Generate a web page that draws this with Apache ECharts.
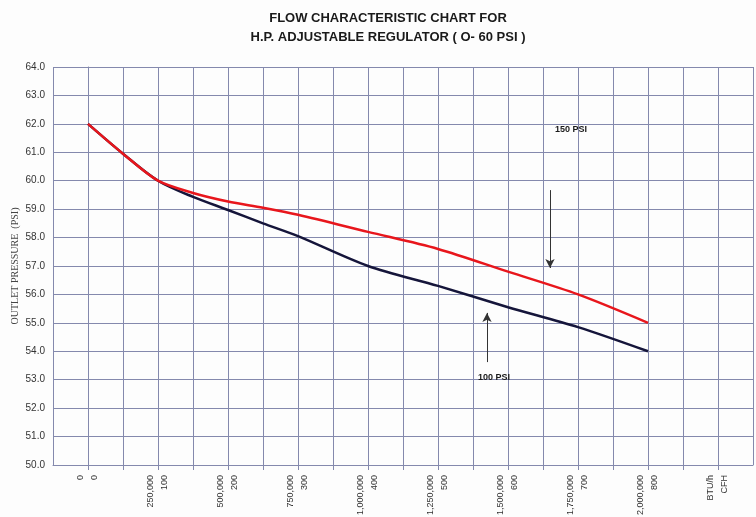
<!DOCTYPE html>
<html>
<head>
<meta charset="utf-8">
<script src="https://cdn.jsdelivr.net/npm/echarts@6/dist/echarts.min.js"></script>
<style>
html,body{margin:0;padding:0;background:#fdfdfd;}
#chart{width:756px;height:517px;}
</style>
</head>
<body>
<div id="chart"></div>
<script>
// CFH values (x) for both curves
var cfh = [0, 50, 100, 150, 200, 250, 300, 400, 500, 600, 700, 800];
// Outlet pressure (PSI) for the 150 PSI inlet curve
var psi150 = [62.0, 60.95, 60.0, 59.57, 59.27, 59.05, 58.8, 58.2, 57.6, 56.8, 56.0, 55.0];
// Outlet pressure (PSI) for the 100 PSI inlet curve
var psi100 = [62.0, 60.95, 60.0, 59.43, 58.97, 58.5, 58.05, 57.0, 56.3, 55.55, 54.85, 54.0];

// x tick labels
var cfhTicks = [0, 100, 200, 300, 400, 500, 600, 700, 800, 900];
var btuLabels = ['0', '250,000', '500,000', '750,000', '1,000,000', '1,250,000', '1,500,000', '1,750,000', '2,000,000', 'BTU/h'];
var cfhLabels = ['0', '100', '200', '300', '400', '500', '600', '700', '800', 'CFH'];

// annotations (data coordinates)
var ann150Text = [690, 61.8];
var ann150Arrow = [[660, 59.67], [660, 56.93]];
var ann100Text = [580, 53.06];
var ann100Arrow = [[570, 53.62], [570, 55.35]];

function pairs(xs, ys){ return xs.map(function(x,i){ return [x, ys[i]]; }); }

var gridColor = '#8489ad';
var chart = echarts.init(document.getElementById('chart'));
chart.setOption({
  backgroundColor: '#fdfdfd',
  animation: false,
  title: {
    text: 'FLOW CHARACTERISTIC CHART FOR\nH.P. ADJUSTABLE REGULATOR ( O- 60 PSI )',
    left: 383,
    top: 4,
    textAlign: 'center',
    textStyle: {
      fontFamily: 'Liberation Sans',
      fontWeight: 'bold',
      fontSize: 13,
      lineHeight: 19,
      color: '#1a1a1a'
    }
  },
  grid: { left: 53, right: 3, top: 67, bottom: 52, outerBoundsMode: 'none', containLabel: false },
  xAxis: {
    type: 'value',
    min: -50,
    max: 950,
    interval: 50,
    axisLine: { show: true, onZero: false, lineStyle: { color: gridColor, width: 1 } },
    axisTick: { show: true, length: 5, lineStyle: { color: gridColor } },
    splitLine: { show: true, lineStyle: { color: gridColor, width: 1 } },
    axisLabel: {
      rotate: 90,
      fontFamily: 'Liberation Sans',
      fontSize: 9,
      lineHeight: 14,
      color: '#333',
      margin: 10,
      padding: [0, 0, 6, 0],
      showMinLabel: false,
      showMaxLabel: false,
      formatter: function(v){
        var i = cfhTicks.indexOf(v);
        if (i < 0) return '';
        return btuLabels[i] + '\n' + cfhLabels[i];
      }
    }
  },
  yAxis: {
    type: 'value',
    min: 50,
    max: 64,
    interval: 1,
    name: 'OUTLET PRESSURE  (PSI)',
    nameLocation: 'middle',
    nameGap: 33,
    nameMoveOverlap: false,
    nameTextStyle: { fontFamily: 'Liberation Serif', fontSize: 10, color: '#444' },
    axisLine: { show: true, lineStyle: { color: gridColor, width: 1 } },
    axisTick: { show: true, length: 5, lineStyle: { color: gridColor } },
    splitLine: { show: true, lineStyle: { color: gridColor, width: 1 } },
    axisLabel: {
      fontFamily: 'Liberation Sans',
      fontSize: 10,
      color: '#333',
      margin: 8,
      formatter: function(v){ return v.toFixed(1); }
    }
  },
  series: [
    {
      name: '100 PSI',
      type: 'line',
      data: pairs(cfh, psi100),
      smooth: 0.3,
      showSymbol: false,
      lineStyle: { color: '#15153a', width: 2.5 },
      z: 3,
      markLine: {
        silent: true,
        symbol: ['none', 'arrow'],
        symbolSize: [7, 9],
        lineStyle: { color: '#333', width: 1, type: 'solid' },
        label: { show: false },
        data: [[{ coord: ann100Arrow[0] }, { coord: ann100Arrow[1] }]]
      },
      markPoint: {
        silent: true,
        symbol: 'rect',
        symbolSize: 1,
        itemStyle: { color: 'rgba(0,0,0,0)' },
        label: {
          show: true, position: 'inside', formatter: '{b}',
          fontFamily: 'Liberation Sans', fontWeight: 'bold', fontSize: 9, color: '#1a1a1a'
        },
        data: [{ name: '100 PSI', coord: ann100Text }]
      }
    },
    {
      name: '150 PSI',
      type: 'line',
      data: pairs(cfh, psi150),
      smooth: 0.3,
      showSymbol: false,
      lineStyle: { color: '#e8161c', width: 2.5 },
      z: 4,
      markLine: {
        silent: true,
        symbol: ['none', 'arrow'],
        symbolSize: [7, 9],
        lineStyle: { color: '#333', width: 1, type: 'solid' },
        label: { show: false },
        data: [[{ coord: ann150Arrow[0] }, { coord: ann150Arrow[1] }]]
      },
      markPoint: {
        silent: true,
        symbol: 'rect',
        symbolSize: 1,
        itemStyle: { color: 'rgba(0,0,0,0)' },
        label: {
          show: true, position: 'inside', formatter: '{b}',
          fontFamily: 'Liberation Sans', fontWeight: 'bold', fontSize: 9, color: '#1a1a1a'
        },
        data: [{ name: '150 PSI', coord: ann150Text }]
      }
    }
  ]
});
</script>
</body>
</html>
